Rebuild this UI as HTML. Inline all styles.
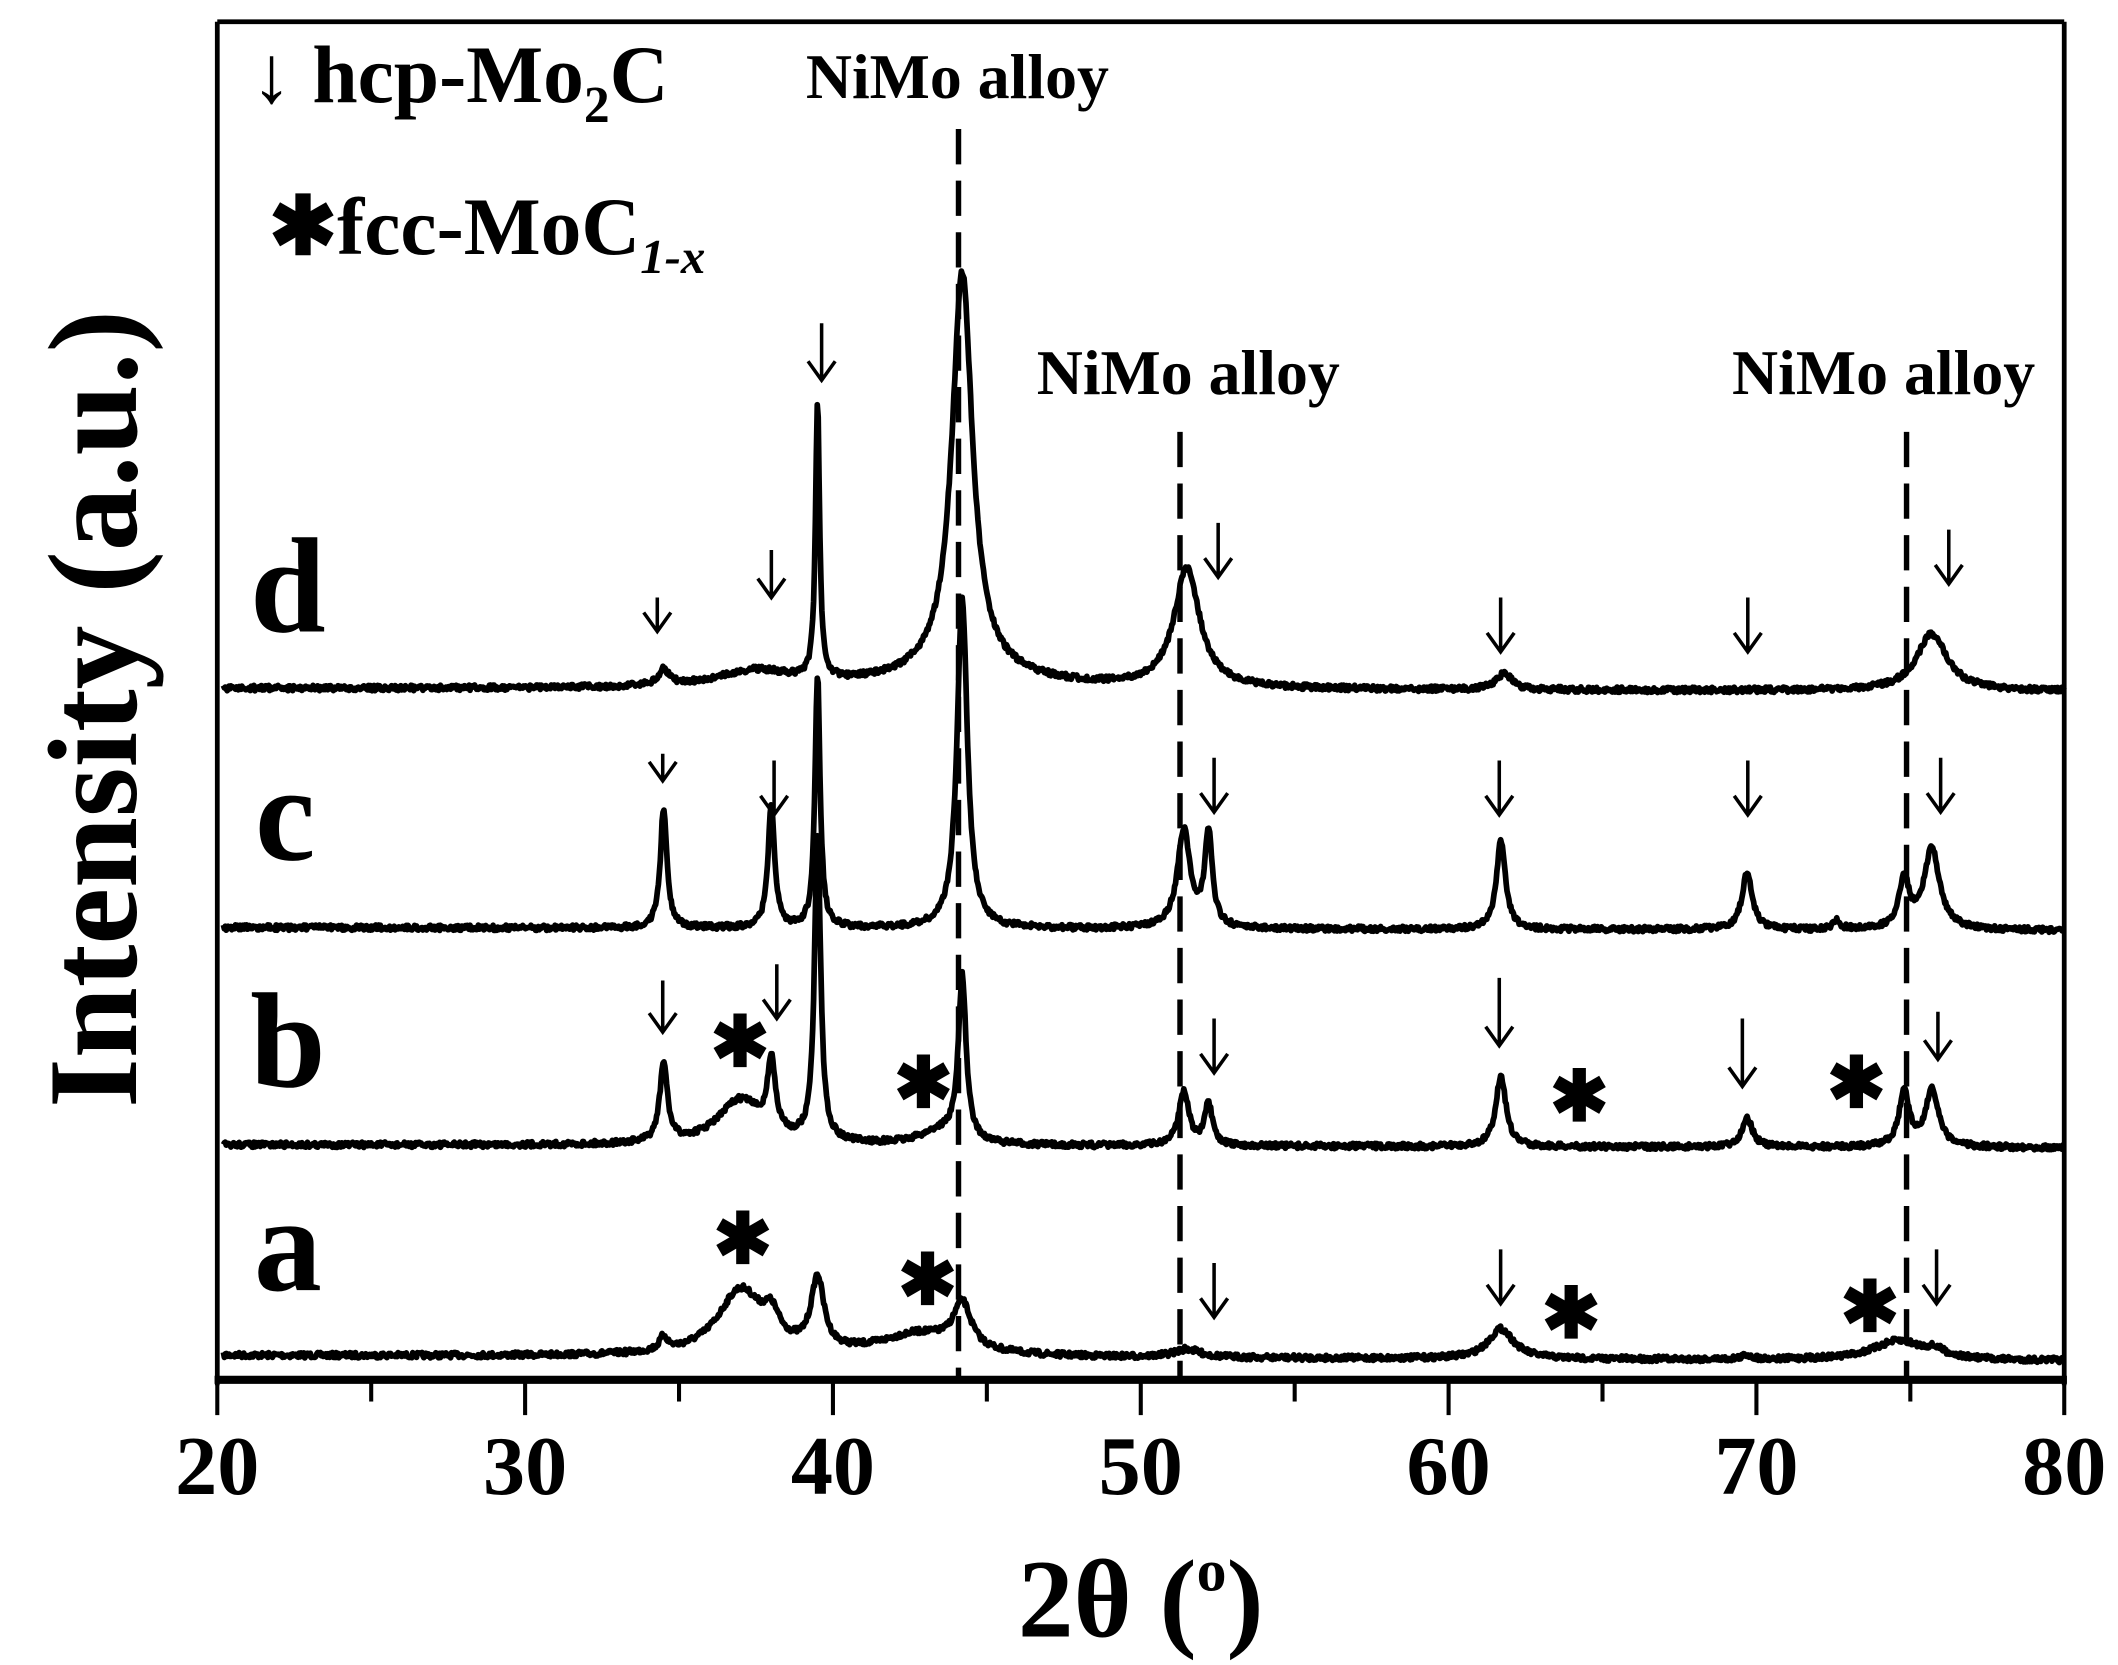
<!DOCTYPE html>
<html><head><meta charset="utf-8"><style>
html,body{margin:0;padding:0;background:#fff;}
svg{display:block;}
text{font-family:"Liberation Serif",serif;font-weight:bold;fill:#000;}
</style></head><body>
<svg id="s" width="2118" height="1665" viewBox="0 0 1559.6 1226" preserveAspectRatio="none">
<rect x="0" y="0" width="1559.6" height="1226" fill="#fff"/>
<g id="curves" fill="none" stroke="#000" stroke-width="4.2" stroke-linejoin="round"></g>
<g stroke="#000" stroke-width="4" stroke-dasharray="26,12">
<line x1="705.8" y1="95" x2="705.8" y2="1015"/>
<line x1="868.9" y1="318" x2="868.9" y2="1015"/>
<line x1="1403.9" y1="318" x2="1403.9" y2="1015"/>
</g>
<g stroke="#000" fill="none">
<line x1="160" y1="16" x2="1520" y2="16" stroke-width="3.5"/>
<line x1="160" y1="16" x2="160" y2="1020" stroke-width="3.5"/>
<line x1="1520" y1="16" x2="1520" y2="1020" stroke-width="3.5"/>
<line x1="158" y1="1016" x2="1522" y2="1016" stroke-width="6"/>
</g>
<g id="ticks" stroke="#000" stroke-width="3"></g>
<g font-size="62" text-anchor="middle" id="tl"></g>
<text x="840" y="1205" font-size="82" text-anchor="middle">2θ (<tspan font-size="44" dy="-34">o</tspan><tspan dy="34">)</tspan></text>
<text transform="translate(100,522) rotate(-90)" font-size="94" text-anchor="middle">Intensity (a.u.)</text>
<g font-size="47">
<text x="705" y="72" text-anchor="middle">NiMo alloy</text>
<text x="875" y="290" text-anchor="middle">NiMo alloy</text>
<text x="1387" y="290" text-anchor="middle">NiMo alloy</text>
</g>
<text x="185" y="75" font-size="60">↓ hcp-Mo<tspan font-size="38" dy="15">2</tspan><tspan dy="-15">C</tspan></text>
<text x="198" y="187" font-size="60">✱fcc-MoC<tspan font-size="36" dy="14" font-style="italic">1-x</tspan></text>
<g font-size="100" text-anchor="middle">
<text x="212" y="465">d</text>
<text x="210" y="633">c</text>
<text x="212" y="800">b</text>
<text x="212" y="950">a</text>
</g>
<g id="arrows" stroke="#000" stroke-width="2.6" fill="none"></g>
<g id="stars" font-size="52" text-anchor="middle"></g>
</svg>
<script>
const NS="http://www.w3.org/2000/svg";
const X=t=>160+(t-20)*22.667;
function el(tag,attrs,parent,txt){const e=document.createElementNS(NS,tag);for(const k in attrs)e.setAttribute(k,attrs[k]);if(txt)e.textContent=txt;document.getElementById(parent).appendChild(e);return e;}
for(let t=20;t<=80;t+=5){const maj=t%10==0;el('line',{x1:X(t),y1:1016,x2:X(t),y2:maj?1042:1032},'ticks');if(maj)el('text',{x:X(t),y:1100},'tl',String(t));}
let seed=7;function rnd(){seed=(seed*16807)%2147483647;return seed/2147483647;}
const curves=[
 {b:998,end:1002,p:[[34.5,10,0.15],[37.0,48,0.9],[38.0,18,0.3],[39.5,52,0.25],[42.8,16,1.5],[44.2,33,0.35],[51.5,6,0.5],[61.7,22,0.5],[69.7,3,0.2],[74.6,14,1.0],[75.8,5,0.4]]},
 {b:843,end:845,p:[[34.5,58,0.15],[37.0,33,0.9],[38.0,52,0.15],[39.5,225,0.12],[43.5,10,0.8],[44.2,120,0.15],[51.4,40,0.2],[52.2,30,0.15],[61.7,52,0.2],[69.7,22,0.2],[74.8,40,0.2],[75.7,42,0.25]]},
 {b:683,end:685,p:[[34.5,88,0.13],[38.0,90,0.13],[39.5,185,0.1],[44.2,243,0.2],[51.4,72,0.25],[52.2,68,0.15],[61.7,65,0.18],[69.7,42,0.2],[72.6,6,0.15],[74.8,35,0.2],[75.7,60,0.3]]},
 {b:507,end:509,p:[[34.5,12,0.2],[37.5,12,1.5],[39.5,205,0.08],[44.2,295,0.4],[44.2,12,2.5],[51.5,88,0.5],[61.8,12,0.3],[75.7,42,0.6]]}
];
for(const c of curves){let d='';for(let t=20.2;t<=80;t+=0.03){let y=c.b+(c.end-c.b)*(t-20)/60;for(const [m,h,w] of c.p)y-=h/(1+((t-m)/w)**2);y+=(rnd()-0.5)*4;d+=(d?'L':'M')+X(t).toFixed(1)+','+y.toFixed(1);}el('path',{d:d},'curves');}
const arr=[[484,440,465],[568,405,440],[605,238,280],[897,385,425],[1105,440,480],[1287,440,480],[1435,390,430],
[488,555,575],[570,560,600],[894,558,598],[1104,560,600],[1287,560,600],[1429,558,598],
[488,722,760],[572,710,750],[894,750,790],[1104,720,770],[1283,750,800],[1427,745,780],
[894,930,970],[1105,920,960],[1426,920,960]];
for(const [x,a,b] of arr){el('path',{d:`M${x},${a}L${x},${b}M${x-10},${b-14}L${x},${b}L${x+10},${b-14}`},'arrows');}
const st=[[545,785],[680,815],[1163,825],[1367,815],[547,930],[683,960],[1157,985],[1377,980]];
for(const [x,y] of st)el('text',{x:x,y:y},'stars','✱');
</script>
</body></html>
